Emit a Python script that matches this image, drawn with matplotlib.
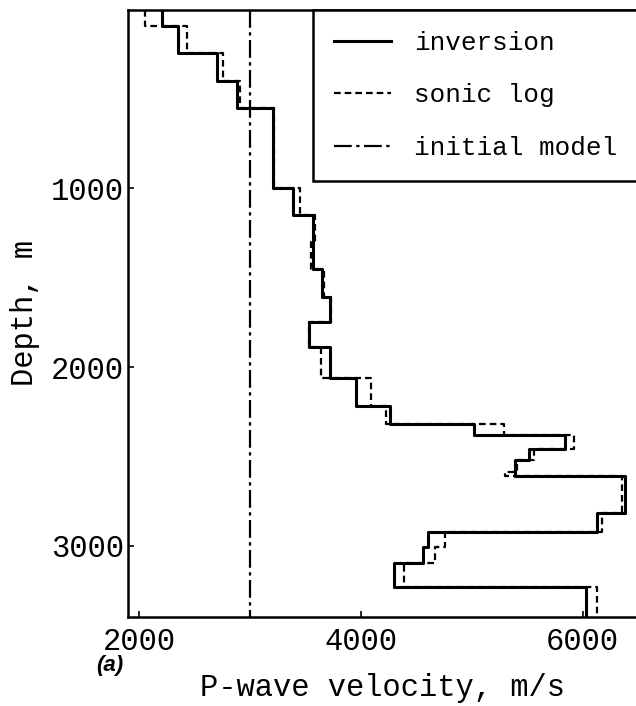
import matplotlib
matplotlib.use('Agg')
import matplotlib.pyplot as plt
import numpy as np

# layer boundaries (m) and velocities (m/s)
inv_depth = [0, 90, 240, 400, 550, 1000, 1150, 1450, 1605, 1750, 1890, 2060,
             2220, 2320, 2380, 2460, 2520, 2610, 2820, 2925, 3010, 3100, 3230, 3400]
inv_vel = [2208, 2352, 2704, 2882, 3207, 3387, 3570, 3650, 3724, 3528, 3724,
           3958, 4265, 5017, 5845, 5514, 5394, 6386, 6131, 4602, 4560, 4296, 6034]

sonic_depth = [0, 90, 240, 400, 550, 1000, 1150, 1300, 1450, 1605, 1750, 1890,
               2060, 2220, 2320, 2380, 2460, 2520, 2590, 2610, 2820, 2925, 3010,
               3100, 3230, 3400]
sonic_vel = [2054, 2436, 2758, 2911, 3215, 3447, 3585, 3555, 3665, 3735, 3535,
             3640, 4091, 4229, 5294, 5926, 5560, 5410, 5300, 6357, 6176, 4762,
             4672, 4386, 6131]

init_depth = [0, 3400]
init_vel = [3000]

xticks = [2000, 4000, 6000]
yticks = [1000, 2000, 3000]


def steps(depth, vel):
    # blocky profile: each layer is a vertical segment
    y = np.repeat(depth, 2)[1:-1]
    x = np.repeat(vel, 2)
    return x, y


def main():
    plt.rcParams['font.family'] = 'Liberation Mono'
    fig = plt.figure(figsize=(6.36, 7.06), dpi=100)
    ax = fig.add_axes([0.2013, 0.1261, 0.8018, 0.8598])

    x, y = steps(sonic_depth, sonic_vel)
    l2, = ax.plot(x, y, color='black', lw=1.6, ls=(0, (3, 1.8)))
    x, y = steps(inv_depth, inv_vel)
    l1, = ax.plot(x, y, color='black', lw=2.2)
    x, y = steps(init_depth, init_vel)
    l3, = ax.plot(x, y, color='black', lw=1.6, ls=(0, (8, 2, 1.5, 2)))

    ax.set_xlim(1900, 6500)
    ax.set_ylim(3400, 0)
    ax.set_xticks(xticks)
    ax.set_yticks(yticks)
    ax.tick_params(direction='in', length=4, width=1.2, labelsize=22)
    ax.tick_params(axis='y', pad=3)
    ax.tick_params(axis='x', pad=7)
    for s in ax.spines.values():
        s.set_linewidth(1.8)

    ax.set_xlabel('P-wave velocity, m/s', fontsize=22, labelpad=12)
    ax.set_ylabel('Depth, m', fontsize=22, labelpad=8)

    leg = ax.legend([l1, l2, l3], ['inversion', 'sonic log', 'initial model'],
                    loc='upper right', bbox_to_anchor=(1, 1), borderaxespad=0,
                    fontsize=18.7, handlelength=2.2, handletextpad=0.9,
                    labelspacing=1.1, borderpad=0.8, fancybox=False,
                    framealpha=1, edgecolor='black')
    leg.get_frame().set_linewidth(1.8)

    fig.text(0.152, 0.058, '(a)', fontsize=16, fontweight='bold',
             fontstyle='italic', family='Liberation Sans', va='center')

    fig.savefig('out.png', dpi=100)


if __name__ == '__main__':
    main()
